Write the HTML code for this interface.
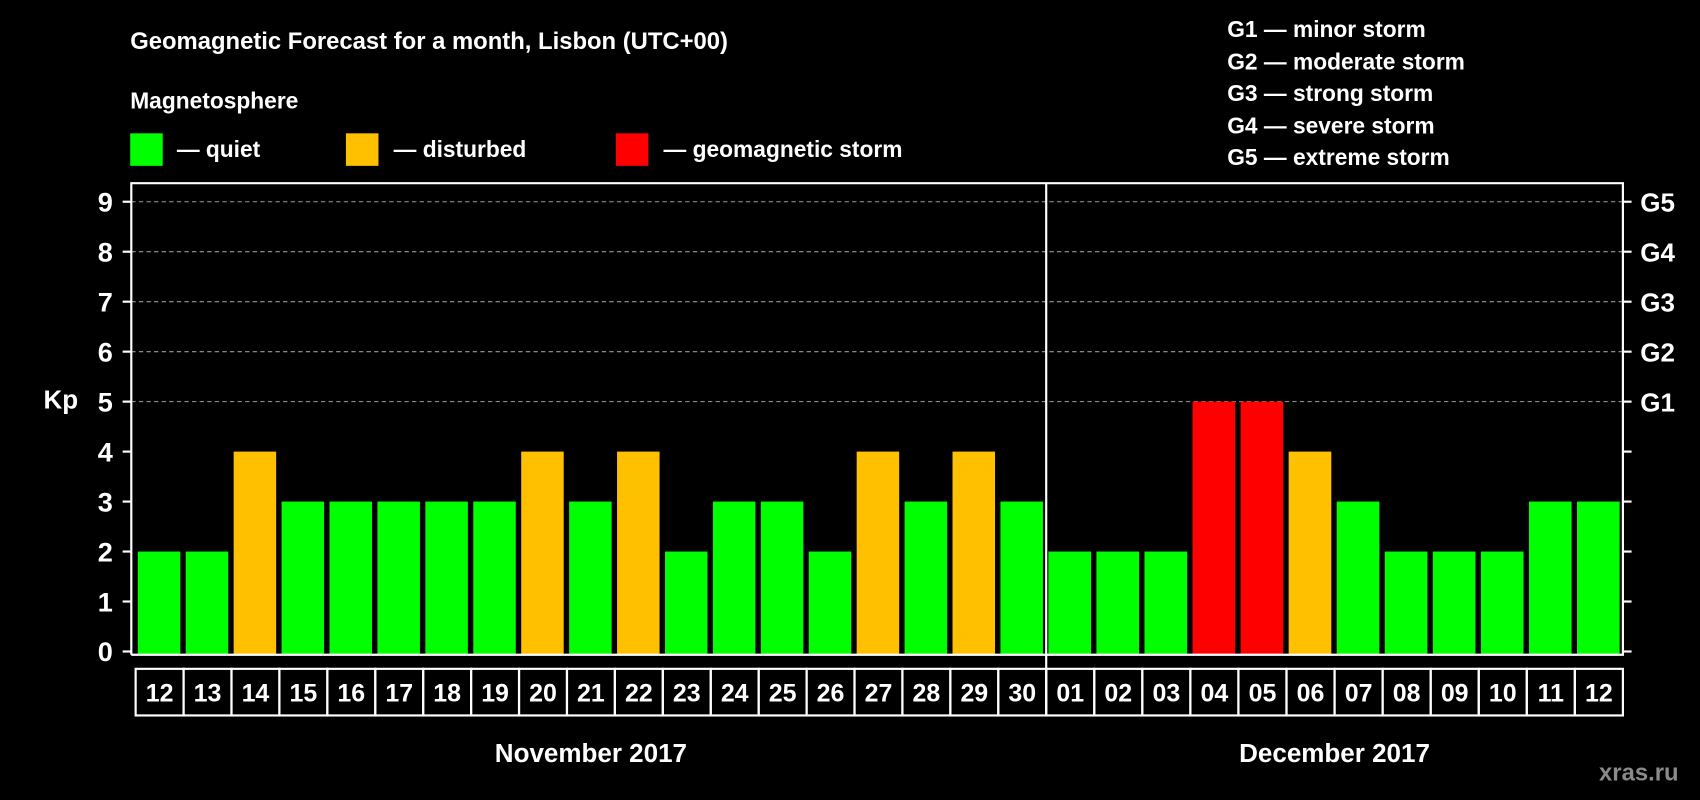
<!DOCTYPE html>
<html><head><meta charset="utf-8"><style>
html,body{margin:0;padding:0;background:#000;width:1700px;height:800px;overflow:hidden}
svg{display:block}
text{font-family:"Liberation Sans",Arial,sans-serif;font-weight:bold;fill:#fff}
</style></head><body>
<svg id="chart" width="1700" height="800" viewBox="0 0 1568 738" xmlns="http://www.w3.org/2000/svg">
<rect width="1568" height="738" fill="#000"/>
<text x="120" y="45" font-size="22">Geomagnetic Forecast for a month, Lisbon (UTC+00)</text>
<text x="120" y="100" font-size="21">Magnetosphere</text>
<g><rect x="120" y="123" width="30" height="30" fill="#00ff00"/><text x="163" y="145" font-size="21">— quiet</text></g>
<g><rect x="319" y="123" width="30" height="30" fill="#ffc000"/><text x="363" y="145" font-size="21">— disturbed</text></g>
<g><rect x="568" y="123" width="30" height="30" fill="#ff0000"/><text x="612" y="145" font-size="21">— geomagnetic storm</text></g>
<g font-size="21">
<text x="1132" y="34">G1 — minor storm</text>
<text x="1132" y="64">G2 — moderate storm</text>
<text x="1132" y="93">G3 — strong storm</text>
<text x="1132" y="123">G4 — severe storm</text>
<text x="1132" y="152">G5 — extreme storm</text>
</g>
<text x="40" y="377" font-size="24">Kp</text>
<g id="grid"></g><g id="bars"></g><g id="axes"></g>
<text x="1475" y="720" font-size="22" style="fill:#8a8a8a">xras.ru</text>
</svg>
<script>
const novDays=["12","13","14","15","16","17","18","19","20","21","22","23","24","25","26","27","28","29","30"];
const novKp=[2,2,4,3,3,3,3,3,4,3,4,2,3,3,2,4,3,4,3];
const decDays=["01","02","03","04","05","06","07","08","09","10","11","12"];
const decKp=[2,2,2,5,5,4,3,2,2,2,3,3];
const yTicks=[0,1,2,3,4,5,6,7,8,9];
const gLabels=["G1","G2","G3","G4","G5"];
const gLevels=[5,6,7,8,9];
const NS="http://www.w3.org/2000/svg";
const L=121,R=1497,T=169,B=604,SEP=965,NOV0=125;
const y=v=>601-v*46.1;
const novW=(SEP-NOV0)/novDays.length, decW=(R-SEP)/decDays.length;
function mk(tag,attrs,parent,txt){const e=document.createElementNS(NS,tag);for(const k in attrs)e.setAttribute(k,attrs[k]);if(txt!==undefined)e.textContent=txt;parent.appendChild(e);return e;}
const grid=document.getElementById('grid'),bars=document.getElementById('bars'),axes=document.getElementById('axes');
gLevels.forEach(v=>{const l=mk('line',{x1:L,x2:R,y1:y(v),y2:y(v),stroke:'#9a9a9a','stroke-width':1,'stroke-dasharray':'4,3'},grid);

});
const col=v=>v>=5?'#ff0000':(v>=4?'#ffc000':'#00ff00');
function drawMonth(days,vals,x0,w,m){
 days.forEach((d,i)=>{const xs=x0+i*w;
  const r=mk('rect',{x:xs+2,y:y(vals[i]),width:w-5,height:y(0)+3-y(vals[i]),fill:col(vals[i])},bars);
  
  
  const bx=mk('rect',{x:xs,y:617,width:w,height:43,fill:'none',stroke:'#fff','stroke-width':2},axes);
  
  
  const t=mk('text',{x:xs+w/2,y:647,'font-size':23,'text-anchor':'middle'},axes,d);
  
  
 });
}
drawMonth(novDays,novKp,NOV0,novW,'nov');
drawMonth(decDays,decKp,SEP,decW,'dec');
const frame=mk('path',{d:`M${L},${B} L${L},${T} L${R},${T} L${R},${B} L${L},${B}`,fill:'none',stroke:'#fff','stroke-width':2},axes);


const sep=mk('line',{x1:SEP,x2:SEP,y1:T,y2:660,stroke:'#fff','stroke-width':2},axes);


yTicks.forEach(v=>{
 const a=mk('line',{x1:L-8,x2:L,y1:y(v),y2:y(v),stroke:'#fff','stroke-width':2},axes);
 
 
 const b=mk('line',{x1:R,x2:R+8,y1:y(v),y2:y(v),stroke:'#fff','stroke-width':2},axes);
 
 
 const t=mk('text',{x:104,y:y(v)+9,'font-size':25,'text-anchor':'end'},axes,String(v));
 
 
});
gLevels.forEach((v,i)=>{const t=mk('text',{x:1513,y:y(v)+9,'font-size':24},axes,gLabels[i]);
 
 });
const m1=mk('text',{x:545,y:703,'font-size':24,'text-anchor':'middle'},axes,'November 2017');


const m2=mk('text',{x:1231,y:703,'font-size':24,'text-anchor':'middle'},axes,'December 2017');


</script>
</body></html>
